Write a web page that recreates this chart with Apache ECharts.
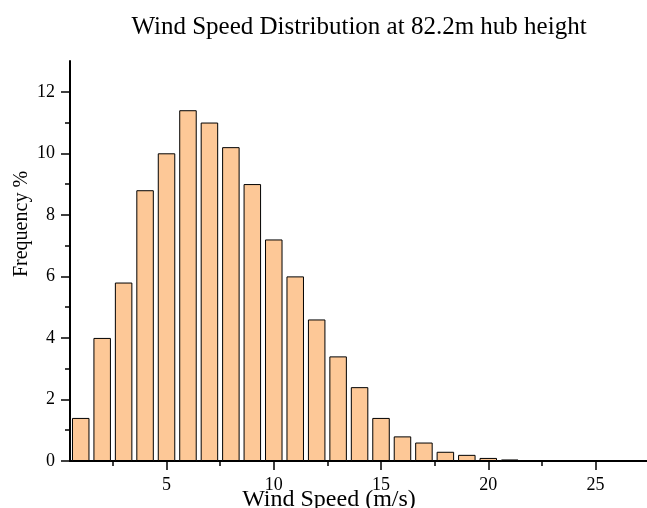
<!DOCTYPE html>
<html>
<head>
<meta charset="utf-8">
<script src="https://cdn.jsdelivr.net/npm/echarts@6/dist/echarts.min.js"></script>
<style>html,body{margin:0;padding:0;background:#fff}#c{width:647px;height:508px}</style>
</head>
<body>
<div id="c"></div>
<script>
var titleText = 'Wind Speed Distribution at 82.2m hub height';
var xName = 'Wind Speed (m/s)';
var yName = 'Frequency %';
var speeds = [1,2,3,4,5,6,7,8,9,10,11,12,13,14,15,16,17,18,19,20,21,22,23,24];
var freq = [1.4,4.0,5.8,8.8,10.0,11.4,11.0,10.2,9.0,7.2,6.0,4.6,3.4,2.4,1.4,0.8,0.6,0.3,0.2,0.1,0.05,0.02,0.01,0.01];
var xMajorTicks = [5,10,15,20,25];
var xMinorTicks = [2.5,7.5,12.5,17.5,22.5];
var yMajorTicks = [0,2,4,6,8,10,12];
var yMinorTicks = [1,3,5,7,9,11];

var font = 'Liberation Serif';
var chart = echarts.init(document.getElementById('c'));
var pairs = speeds.map(function(s,i){return [s, freq[i]];});
var ax = {color:'#000',width:1.5};
chart.setOption({
  animation:false,
  backgroundColor:'#fff',
  title:{text:titleText,left:354,top:10,textAlign:'center',
    textStyle:{fontFamily:font,fontWeight:'normal',fontSize:25,color:'#000'}},
  grid:[{left:70,right:0,top:61,bottom:47,outerBoundsMode:'none',containLabel:false}],
  xAxis:[
    {type:'value',position:'bottom',min:0.5,max:27.4,
      axisLine:{show:true,onZero:false,lineStyle:{color:'#000',width:2}},
      axisTick:{show:true,length:9,customValues:xMajorTicks,lineStyle:ax},
      splitLine:{show:false},
      axisLabel:{color:'#000',fontFamily:font,fontSize:18,margin:15,customValues:xMajorTicks},
      name:xName,nameLocation:'middle',nameGap:27,nameMoveOverlap:false,
      nameTextStyle:{color:'#000',fontFamily:font,fontSize:24,padding:[0,59,0,0]}},
    {type:'value',position:'bottom',offset:0,min:0.5,max:27.4,
      axisLine:{show:false,onZero:false},
      axisTick:{show:true,length:5,customValues:xMinorTicks,lineStyle:ax},
      axisLabel:{show:false},splitLine:{show:false}}
  ],
  yAxis:[
    {type:'value',position:'left',min:0,max:13,
      axisLine:{show:true,onZero:false,lineStyle:{color:'#000',width:2}},
      axisTick:{show:true,length:9,customValues:yMajorTicks,lineStyle:ax},
      splitLine:{show:false},
      axisLabel:{color:'#000',fontFamily:font,fontSize:18,margin:15,customValues:yMajorTicks},
      name:yName,nameLocation:'middle',nameGap:38,nameMoveOverlap:false,
      nameTextStyle:{color:'#000',fontFamily:font,fontSize:20,padding:[0,0,0,74]}},
    {type:'value',position:'left',offset:0,min:0,max:13,
      axisLine:{show:false,onZero:false},
      axisTick:{show:true,length:5,customValues:yMinorTicks,lineStyle:ax},
      axisLabel:{show:false},splitLine:{show:false}}
  ],
  series:[{
    type:'bar',xAxisIndex:0,yAxisIndex:0,data:pairs,barWidth:17.5,
    itemStyle:{color:'#FDC897',borderColor:'#000',borderWidth:1}
  }]
});
</script>
</body>
</html>
